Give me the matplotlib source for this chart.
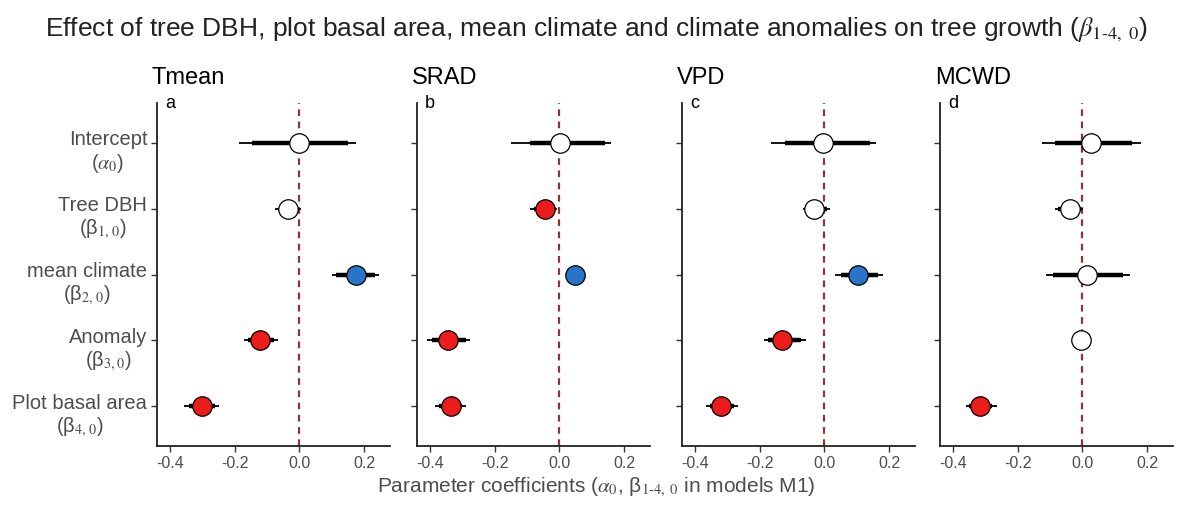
import numpy as np
import matplotlib
matplotlib.use('Agg')
from matplotlib import pyplot as plt
from matplotlib import transforms

plt.rcParams['font.family'] = ['Liberation Sans', 'DejaVu Sans']
plt.rcParams['mathtext.fontset'] = 'stix'

# model terms, top to bottom
terms = ['Intercept', 'Tree DBH', 'mean climate', 'Anomaly', 'Plot basal area']
term_syms = [r'($\alpha_0$)', r'(β$_{1,\,0}$)', r'(β$_{2,\,0}$)',
             r'(β$_{3,0}$)', r'(β$_{4,\,0}$)']

climates = ['Tmean', 'SRAD', 'VPD', 'MCWD']
panel_tags = ['a', 'b', 'c', 'd']

# posterior medians and 95% / 80% credible intervals, one list per climate variable
tmean_med = [0.000, -0.034, 0.174, -0.121, -0.300]
tmean_lo95 = [-0.186, -0.074, 0.102, -0.170, -0.357]
tmean_hi95 = [0.174, 0.006, 0.245, -0.066, -0.248]
tmean_lo80 = [-0.146, -0.062, 0.112, -0.158, -0.342]
tmean_hi80 = [0.149, -0.008, 0.234, -0.078, -0.262]

srad_med = [0.003, -0.046, 0.047, -0.343, -0.335]
srad_lo95 = [-0.148, -0.090, 0.030, -0.410, -0.385]
srad_hi95 = [0.160, -0.006, 0.065, -0.276, -0.290]
srad_lo80 = [-0.092, -0.080, 0.035, -0.395, -0.372]
srad_hi80 = [0.142, -0.014, 0.060, -0.290, -0.300]

vpd_med = [-0.005, -0.031, 0.105, -0.130, -0.320]
vpd_lo95 = [-0.166, -0.065, 0.034, -0.188, -0.366]
vpd_hi95 = [0.160, 0.018, 0.180, -0.058, -0.268]
vpd_lo80 = [-0.123, -0.055, 0.050, -0.175, -0.355]
vpd_hi80 = [0.142, 0.008, 0.165, -0.072, -0.280]

mcwd_med = [0.026, -0.037, 0.013, -0.005, -0.315]
mcwd_lo95 = [-0.125, -0.084, -0.113, -0.020, -0.360]
mcwd_hi95 = [0.180, 0.003, 0.147, 0.010, -0.265]
mcwd_lo80 = [-0.084, -0.075, -0.090, -0.015, -0.350]
mcwd_hi80 = [0.153, -0.005, 0.125, 0.005, -0.278]

med = [tmean_med, srad_med, vpd_med, mcwd_med]
lo95 = [tmean_lo95, srad_lo95, vpd_lo95, mcwd_lo95]
hi95 = [tmean_hi95, srad_hi95, vpd_hi95, mcwd_hi95]
lo80 = [tmean_lo80, srad_lo80, vpd_lo80, mcwd_lo80]
hi80 = [tmean_hi80, srad_hi80, vpd_hi80, mcwd_hi80]

x_ticks = [-0.4, -0.2, 0.0, 0.2]

RED = '#ec1c1c'
BLUE = '#2874c8'
GREY = '#4d4d4d'

fig = plt.figure(figsize=(11.92, 5.07), dpi=100)
lefts = [157, 417, 682, 940]
W, H = 1192, 507
ypos = np.arange(len(terms), 0, -1)

for k, clim in enumerate(climates):
    ax = fig.add_axes([lefts[k] / W, 1 - 446 / H, 233 / W, 343 / H])
    ax.axvline(0, color='#8b3535', lw=1.6, ls=(0, (3, 2.5)), zorder=1)
    for i, y in enumerate(ypos):
        ax.plot([lo95[k][i], hi95[k][i]], [y, y], color='black', lw=1.3,
                solid_capstyle='butt', zorder=2)
        ax.plot([lo80[k][i], hi80[k][i]], [y, y], color='black', lw=3.2,
                solid_capstyle='butt', zorder=2)
        # significant terms are filled: red below zero, blue above
        if hi95[k][i] < 0:
            fc = RED
        elif lo95[k][i] > 0:
            fc = BLUE
        else:
            fc = 'white'
        ax.plot(med[k][i], y, 'o', ms=14, mfc=fc, mec='black', mew=0.9, zorder=3)

    ax.set_xlim(-0.44, 0.28)
    ax.set_ylim(0.4, 5.6)
    ax.set_xticks(x_ticks)
    ax.set_xticklabels(['%.1f' % v if v != 0 else '0.0' for v in x_ticks])
    ax.set_yticks(ypos)
    for s in ['top', 'right']:
        ax.spines[s].set_visible(False)
    for s in ['left', 'bottom']:
        ax.spines[s].set_linewidth(1.3)
        ax.spines[s].set_color('#222222')
    ax.tick_params(axis='both', length=4, width=1, color='#333333',
                   labelsize=11.5, labelcolor=GREY, pad=3)
    if k == 0:
        labels = [t + '\n' + s for t, s in zip(terms, term_syms)]
        ax.set_yticklabels(labels, multialignment='center', fontsize=14.5,
                           color=GREY, linespacing=1.15)
        shift = transforms.ScaledTranslation(0, 9 / 72, fig.dpi_scale_trans)
        for lab in ax.get_yticklabels():
            lab.set_verticalalignment('top')
            lab.set_transform(lab.get_transform() + shift)
    else:
        ax.set_yticklabels([])
    ax.text(0.035, 1.0, panel_tags[k], transform=ax.transAxes, fontsize=13,
            va='center', ha='left')
    fig.text((lefts[k] - 5) / W, 1 - 78 / H, clim, fontsize=17, ha='left',
             va='center')

fig.text(0.5, 1 - 30 / H,
         r'Effect of tree DBH, plot basal area, mean climate and climate anomalies '
         r'on tree growth ($\beta_{\mathrm{1\text{-}4,\ 0}}$)',
         fontsize=19, ha='center', va='center', color='#222222')
fig.text(0.5, 1 - 487 / H,
         r'Parameter coefficients ($\alpha_0$, β$_{\mathrm{1\text{-}4,\ 0}}$ in models M1)',
         fontsize=15, ha='center', va='center', color=GREY)

fig.savefig('out.png', dpi=100)
